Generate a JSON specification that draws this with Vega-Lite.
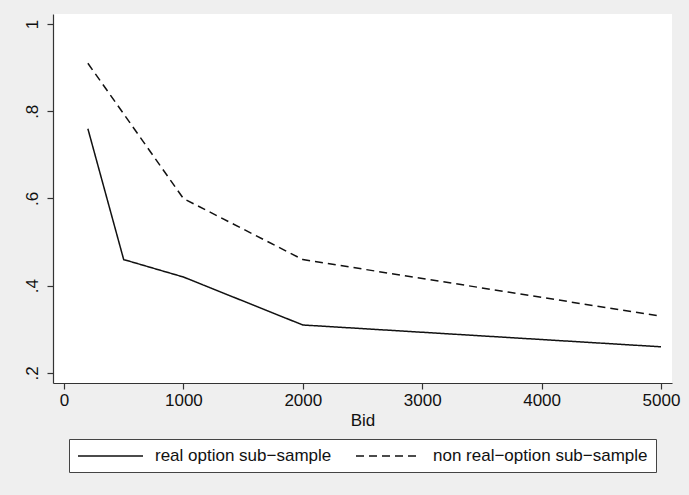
{
  "$schema": "https://vega.github.io/schema/vega-lite/v6.json",
  "width": 619,
  "height": 369,
  "autosize": {"type": "none"},
  "padding": {"left": 53, "top": 14, "right": 17, "bottom": 112},
  "background": "#efefef",
  "config": {
    "view": {"fill": "white", "stroke": null},
    "font": "Liberation Sans",
    "axis": {
      "grid": false,
      "domainColor": "#333333",
      "tickColor": "#333333",
      "labelColor": "#111111",
      "titleColor": "#111111",
      "labelFont": "Liberation Sans",
      "titleFont": "Liberation Sans",
      "labelFontSize": 17,
      "titleFontSize": 17,
      "titleFontWeight": "normal",
      "tickSize": 6,
      "domainWidth": 1.2,
      "tickWidth": 1.2
    }
  },
  "data": {
    "values": [
      {"Bid": 200, "p": 0.76, "series": "real option sub\u2212sample"},
      {"Bid": 500, "p": 0.46, "series": "real option sub\u2212sample"},
      {"Bid": 1000, "p": 0.42, "series": "real option sub\u2212sample"},
      {"Bid": 2000, "p": 0.31, "series": "real option sub\u2212sample"},
      {"Bid": 5000, "p": 0.26, "series": "real option sub\u2212sample"},
      {"Bid": 200, "p": 0.91, "series": "non real\u2212option sub\u2212sample"},
      {"Bid": 500, "p": 0.794, "series": "non real\u2212option sub\u2212sample"},
      {"Bid": 1000, "p": 0.60, "series": "non real\u2212option sub\u2212sample"},
      {"Bid": 2000, "p": 0.46, "series": "non real\u2212option sub\u2212sample"},
      {"Bid": 5000, "p": 0.33, "series": "non real\u2212option sub\u2212sample"}
    ]
  },
  "mark": {"type": "line", "color": "#111111", "strokeWidth": 1.5},
  "encoding": {
    "x": {
      "field": "Bid",
      "type": "quantitative",
      "scale": {"domain": [-92, 5092], "nice": false, "zero": false},
      "axis": {
        "values": [0, 1000, 2000, 3000, 4000, 5000],
        "format": "d",
        "title": "Bid",
        "labelPadding": 3,
        "titlePadding": 4
      }
    },
    "y": {
      "field": "p",
      "type": "quantitative",
      "scale": {"domain": [0.177, 1.023], "nice": false, "zero": false},
      "axis": {
        "values": [0.2, 0.4, 0.6, 0.8, 1],
        "format": "~g",
        "labelExpr": "replace(datum.label, '0.', '.')",
        "labelAngle": -90,
        "labelAlign": "center",
        "labelBaseline": "bottom",
        "labelPadding": 6,
        "title": null
      }
    },
    "strokeDash": {
      "field": "series",
      "type": "nominal",
      "scale": {
        "domain": ["real option sub\u2212sample", "non real\u2212option sub\u2212sample"],
        "range": [[1, 0], [8, 5]]
      },
      "legend": {
        "title": null,
        "orient": "none",
        "legendX": 16,
        "legendY": 425,
        "direction": "horizontal",
        "fillColor": "white",
        "strokeColor": "#444444",
        "padding": 8,
        "symbolType": "M-1,0H7.125",
        "symbolSize": 256,
        "symbolStrokeWidth": 1.5,
        "symbolStrokeColor": "#111111",
        "labelFontSize": 17,
        "labelFont": "Liberation Sans",
        "labelColor": "#111111",
        "labelOffset": 60,
        "labelLimit": 400,
        "columnPadding": 21
      }
    }
  }
}
